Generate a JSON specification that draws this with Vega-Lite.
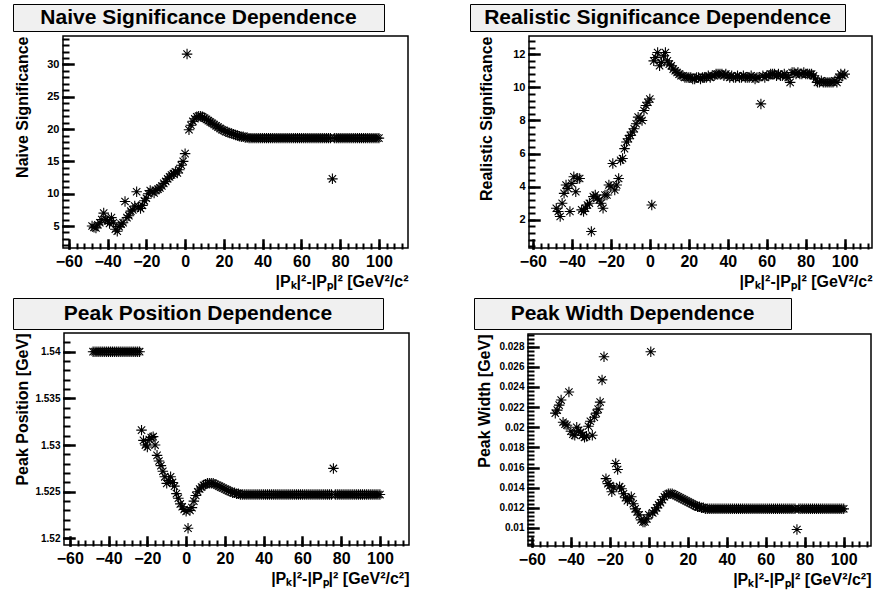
{
"$schema": "https://vega.github.io/schema/vega-lite/v6.json",
"padding": {"left": 12, "top": 3, "right": 4, "bottom": 4},
"background": "white",
"config": {
  "font": "Liberation Sans",
  "view": {"stroke": "black", "strokeWidth": 1.5},
  "axis": {"domain": false, "grid": false, "ticks": true, "tickColor": "#000000", "tickOpacity": 1, "tickCap": "square", "labelColor": "black", "titleColor": "black", "labelFont": "Liberation Sans", "titleFont": "Liberation Sans", "labelFontWeight": "bold", "titleFontWeight": "bold", "labelFlush": false, "labelOverlap": false, "zindex": 1}
},
"datasets": {"pts": [
{"x":-48,"a":5.0,"b":2.7,"c":1.54,"d":0.0214},
{"x":-47,"a":4.8,"b":2.5,"c":1.54,"d":0.0217},
{"x":-46,"a":4.7,"b":2.2,"c":1.54,"d":0.0222},
{"x":-45,"a":5.2,"b":3.0,"c":1.54,"d":0.0227},
{"x":-44,"a":5.5,"b":3.6,"c":1.54,"d":0.0205},
{"x":-43,"a":6.0,"b":4.1,"c":1.54,"d":0.0203},
{"x":-42,"a":7.0,"b":3.9,"c":1.54,"d":0.0202},
{"x":-41,"a":6.0,"b":2.5,"c":1.54,"d":0.0235},
{"x":-40,"a":5.8,"b":4.2,"c":1.54,"d":0.0196},
{"x":-39,"a":5.4,"b":4.6,"c":1.54,"d":0.0193},
{"x":-38,"a":6.3,"b":3.7,"c":1.54,"d":0.0192},
{"x":-37,"a":5.5,"b":4.5,"c":1.54,"d":0.0200},
{"x":-36,"a":4.5,"b":4.5,"c":1.54,"d":0.0197},
{"x":-35,"a":4.2,"b":2.6,"c":1.54,"d":0.0195},
{"x":-34,"a":4.9,"b":2.5,"c":1.54,"d":0.0192},
{"x":-33,"a":5.3,"b":2.7,"c":1.54,"d":0.0190},
{"x":-32,"a":5.5,"b":2.9,"c":1.54,"d":0.0191},
{"x":-31,"a":8.8,"b":3.0,"c":1.54,"d":0.0201},
{"x":-30,"a":6.3,"b":1.3,"c":1.54,"d":0.0206},
{"x":-29,"a":6.6,"b":3.4,"c":1.54,"d":0.0192},
{"x":-28,"a":7.3,"b":3.5,"c":1.54,"d":0.0210},
{"x":-27,"a":7.5,"b":3.3,"c":1.54,"d":0.0214},
{"x":-26,"a":8.1,"b":3.2,"c":1.54,"d":0.0218},
{"x":-25,"a":10.3,"b":3.0,"c":1.54,"d":0.0225},
{"x":-24,"a":8.0,"b":2.7,"c":1.54,"d":0.0247},
{"x":-23,"a":7.7,"b":3.5,"c":1.5316,"d":0.0270},
{"x":-22,"a":8.2,"b":3.5,"c":1.5305,"d":0.0149},
{"x":-21,"a":8.9,"b":4.1,"c":1.5300,"d":0.0144},
{"x":-20,"a":9.3,"b":4.0,"c":1.5298,"d":0.0142},
{"x":-19,"a":10.0,"b":5.4,"c":1.5306,"d":0.0136},
{"x":-18,"a":10.5,"b":3.8,"c":1.5308,"d":0.0140},
{"x":-17,"a":10.3,"b":4.1,"c":1.5309,"d":0.0164},
{"x":-16,"a":10.1,"b":4.5,"c":1.5300,"d":0.0158},
{"x":-15,"a":10.5,"b":5.6,"c":1.5289,"d":0.0141},
{"x":-14,"a":10.7,"b":5.7,"c":1.5283,"d":0.0139},
{"x":-13,"a":10.9,"b":6.3,"c":1.5278,"d":0.0134},
{"x":-12,"a":11.2,"b":6.7,"c":1.5272,"d":0.0130},
{"x":-11,"a":11.6,"b":6.9,"c":1.5266,"d":0.0127},
{"x":-10,"a":11.9,"b":7.1,"c":1.5259,"d":0.0129},
{"x":-9,"a":12.3,"b":7.3,"c":1.5262,"d":0.0131},
{"x":-8,"a":12.6,"b":7.5,"c":1.5266,"d":0.0124},
{"x":-7,"a":12.9,"b":7.8,"c":1.5260,"d":0.0119},
{"x":-6,"a":13.1,"b":8.2,"c":1.5256,"d":0.0116},
{"x":-5,"a":13.4,"b":8.1,"c":1.5248,"d":0.0113},
{"x":-4,"a":13.2,"b":8.0,"c":1.5243,"d":0.0108},
{"x":-3,"a":13.7,"b":8.6,"c":1.5237,"d":0.0106},
{"x":-2,"a":14.4,"b":8.9,"c":1.5234,"d":0.0106},
{"x":-1,"a":15.0,"b":9.1,"c":1.5231,"d":0.0109},
{"x":0,"a":16.2,"b":9.3,"c":1.5229,"d":0.0113},
{"x":1,"a":31.6,"b":2.9,"c":1.5211,"d":0.0275},
{"x":2,"a":19.9,"b":11.6,"c":1.5230,"d":0.0115},
{"x":3,"a":20.6,"b":11.8,"c":1.5233,"d":0.0117},
{"x":4,"a":21.2,"b":12.1,"c":1.5240,"d":0.0120},
{"x":5,"a":21.6,"b":11.3,"c":1.5246,"d":0.0123},
{"x":6,"a":21.9,"b":11.5,"c":1.5250,"d":0.0125},
{"x":7,"a":22.0,"b":11.9,"c":1.5253,"d":0.0128},
{"x":8,"a":22.0,"b":12.1,"c":1.5255,"d":0.0131},
{"x":9,"a":21.9,"b":11.6,"c":1.5257,"d":0.0133},
{"x":10,"a":21.7,"b":11.4,"c":1.5258,"d":0.0134},
{"x":11,"a":21.5,"b":11.3,"c":1.5259,"d":0.0134},
{"x":12,"a":21.3,"b":11.1,"c":1.5259,"d":0.0134},
{"x":13,"a":21.1,"b":11.0,"c":1.5259,"d":0.0133},
{"x":14,"a":20.9,"b":10.9,"c":1.5259,"d":0.0132},
{"x":15,"a":20.7,"b":10.8,"c":1.5258,"d":0.0131},
{"x":16,"a":20.5,"b":10.7,"c":1.5257,"d":0.0130},
{"x":17,"a":20.3,"b":10.7,"c":1.5256,"d":0.0129},
{"x":18,"a":20.1,"b":10.6,"c":1.5255,"d":0.0128},
{"x":19,"a":19.9,"b":10.6,"c":1.5254,"d":0.0127},
{"x":20,"a":19.8,"b":10.6,"c":1.5253,"d":0.0126},
{"x":21,"a":19.6,"b":10.6,"c":1.5252,"d":0.0125},
{"x":22,"a":19.5,"b":10.5,"c":1.5251,"d":0.0124},
{"x":23,"a":19.4,"b":10.5,"c":1.5250,"d":0.0123},
{"x":24,"a":19.3,"b":10.6,"c":1.5249,"d":0.0122},
{"x":25,"a":19.2,"b":10.6,"c":1.5249,"d":0.0121},
{"x":26,"a":19.1,"b":10.5,"c":1.5248,"d":0.0121},
{"x":27,"a":19.0,"b":10.6,"c":1.5248,"d":0.0120},
{"x":28,"a":18.9,"b":10.6,"c":1.5247,"d":0.0120},
{"x":29,"a":18.8,"b":10.6,"c":1.5247,"d":0.0119},
{"x":30,"a":18.8,"b":10.7,"c":1.5247,"d":0.0119},
{"x":31,"a":18.7,"b":10.6,"c":1.5247,"d":0.0119},
{"x":32,"a":18.7,"b":10.7,"c":1.5247,"d":0.0119},
{"x":33,"a":18.6,"b":10.7,"c":1.5247,"d":0.0119},
{"x":34,"a":18.6,"b":10.8,"c":1.5247,"d":0.0119},
{"x":35,"a":18.6,"b":10.8,"c":1.5247,"d":0.0119},
{"x":36,"a":18.6,"b":10.8,"c":1.5247,"d":0.0119},
{"x":37,"a":18.6,"b":10.8,"c":1.5247,"d":0.0119},
{"x":38,"a":18.6,"b":10.7,"c":1.5247,"d":0.0119},
{"x":39,"a":18.6,"b":10.8,"c":1.5247,"d":0.0119},
{"x":40,"a":18.6,"b":10.7,"c":1.5247,"d":0.0119},
{"x":41,"a":18.6,"b":10.6,"c":1.5247,"d":0.0119},
{"x":42,"a":18.6,"b":10.7,"c":1.5247,"d":0.0119},
{"x":43,"a":18.6,"b":10.6,"c":1.5247,"d":0.0119},
{"x":44,"a":18.6,"b":10.6,"c":1.5247,"d":0.0119},
{"x":45,"a":18.6,"b":10.7,"c":1.5247,"d":0.0119},
{"x":46,"a":18.6,"b":10.6,"c":1.5247,"d":0.0119},
{"x":47,"a":18.6,"b":10.6,"c":1.5247,"d":0.0119},
{"x":48,"a":18.6,"b":10.7,"c":1.5247,"d":0.0119},
{"x":49,"a":18.6,"b":10.6,"c":1.5247,"d":0.0119},
{"x":50,"a":18.6,"b":10.6,"c":1.5247,"d":0.0119},
{"x":51,"a":18.6,"b":10.6,"c":1.5247,"d":0.0119},
{"x":52,"a":18.6,"b":10.7,"c":1.5247,"d":0.0119},
{"x":53,"a":18.6,"b":10.6,"c":1.5247,"d":0.0119},
{"x":54,"a":18.6,"b":10.5,"c":1.5247,"d":0.0119},
{"x":55,"a":18.6,"b":10.6,"c":1.5247,"d":0.0119},
{"x":56,"a":18.6,"b":10.6,"c":1.5247,"d":0.0119},
{"x":57,"a":18.6,"b":9.0,"c":1.5247,"d":0.0119},
{"x":58,"a":18.6,"b":10.7,"c":1.5247,"d":0.0119},
{"x":59,"a":18.6,"b":10.6,"c":1.5247,"d":0.0119},
{"x":60,"a":18.6,"b":10.7,"c":1.5247,"d":0.0119},
{"x":61,"a":18.6,"b":10.7,"c":1.5247,"d":0.0119},
{"x":62,"a":18.6,"b":10.8,"c":1.5247,"d":0.0119},
{"x":63,"a":18.6,"b":10.8,"c":1.5247,"d":0.0119},
{"x":64,"a":18.6,"b":10.8,"c":1.5247,"d":0.0119},
{"x":65,"a":18.6,"b":10.7,"c":1.5247,"d":0.0119},
{"x":66,"a":18.6,"b":10.8,"c":1.5247,"d":0.0119},
{"x":67,"a":18.6,"b":10.7,"c":1.5247,"d":0.0119},
{"x":68,"a":18.6,"b":10.7,"c":1.5247,"d":0.0119},
{"x":69,"a":18.6,"b":10.8,"c":1.5247,"d":0.0119},
{"x":70,"a":18.6,"b":10.7,"c":1.5247,"d":0.0119},
{"x":71,"a":18.6,"b":10.6,"c":1.5247,"d":0.0119},
{"x":72,"a":18.6,"b":10.3,"c":1.5247,"d":0.0119},
{"x":73,"a":18.6,"b":10.9,"c":1.5247,"d":0.0119},
{"x":74,"a":18.6,"b":10.9,"c":1.5247,"d":0.0119},
{"x":75,"a":18.6,"b":10.8,"c":1.5247,"d":0.0119},
{"x":76,"a":12.3,"b":10.9,"c":1.5275,"d":0.00985},
{"x":77,"a":18.6,"b":10.8,"c":1.5247,"d":0.0119},
{"x":78,"a":18.6,"b":10.8,"c":1.5247,"d":0.0119},
{"x":79,"a":18.6,"b":10.9,"c":1.5247,"d":0.0119},
{"x":80,"a":18.6,"b":10.8,"c":1.5247,"d":0.0119},
{"x":81,"a":18.6,"b":10.8,"c":1.5247,"d":0.0119},
{"x":82,"a":18.6,"b":10.8,"c":1.5247,"d":0.0119},
{"x":83,"a":18.6,"b":10.8,"c":1.5247,"d":0.0119},
{"x":84,"a":18.6,"b":10.7,"c":1.5247,"d":0.0119},
{"x":85,"a":18.6,"b":10.5,"c":1.5247,"d":0.0119},
{"x":86,"a":18.6,"b":10.3,"c":1.5247,"d":0.0119},
{"x":87,"a":18.6,"b":10.3,"c":1.5247,"d":0.0119},
{"x":88,"a":18.6,"b":10.4,"c":1.5247,"d":0.0119},
{"x":89,"a":18.6,"b":10.3,"c":1.5247,"d":0.0119},
{"x":90,"a":18.6,"b":10.3,"c":1.5247,"d":0.0119},
{"x":91,"a":18.6,"b":10.3,"c":1.5247,"d":0.0119},
{"x":92,"a":18.6,"b":10.3,"c":1.5247,"d":0.0119},
{"x":93,"a":18.6,"b":10.3,"c":1.5247,"d":0.0119},
{"x":94,"a":18.6,"b":10.3,"c":1.5247,"d":0.0119},
{"x":95,"a":18.6,"b":10.4,"c":1.5247,"d":0.0119},
{"x":96,"a":18.6,"b":10.3,"c":1.5247,"d":0.0119},
{"x":97,"a":18.6,"b":10.6,"c":1.5247,"d":0.0119},
{"x":98,"a":18.6,"b":10.8,"c":1.5247,"d":0.0119},
{"x":99,"a":18.6,"b":10.7,"c":1.5247,"d":0.0119},
{"x":100,"a":18.6,"b":10.8,"c":1.5247,"d":0.0119}
]},
"vconcat": [
 {"hconcat": [
  {"vconcat": [
    {"width": 371, "height": 27, "view": {"fill": "#f0f0f0", "stroke": "black", "strokeWidth": 1},
     "data": {"values": [{"t": "Naive Significance Dependence"}]},
     "mark": {"type": "text", "fontSize": 21, "fontWeight": "bold", "color": "black"},
     "encoding": {"text": {"field": "t", "type": "nominal"}}},
    {"hconcat": [
     {"width": 1, "height": 212, "view": {"stroke": null, "fill": null}, "data": {"values": [{"t": ""}]}, "mark": {"type": "text"}, "encoding": {"text": {"field": "t", "type": "nominal"}}},
     {"width": 345, "height": 212, "data": {"name": "pts"},
     "layer": [
      {"mark": {"type": "point", "shape": "M-1,0L1,0M0,-1L0,1M-0.7,-0.7L0.7,0.7M-0.7,0.7L0.7,-0.7", "size": 110, "filled": false, "stroke": "black", "strokeWidth": 1.1, "opacity": 1},
       "encoding": {
        "x": {"field": "x", "type": "quantitative", "scale": {"domain": [-63, 115], "nice": false, "zero": false},
              "axis": {"orient": "bottom", "format": "d", "values": [-60,-40,-20,0,20,40,60,80,100], "offset": -8, "tickSize": 8, "tickWidth": 2.5, "labelPadding": 5, "labelFontSize": 16, "title": "|Pₖ|²-|Pₚ|² [GeV²/c²", "titleFontSize": 16, "titleAnchor": "end", "titlePadding": 4}},
        "y": {"field": "a", "type": "quantitative", "scale": {"domain": [1.6, 34.4], "nice": false, "zero": false},
              "axis": {"orient": "left", "format": "d", "values": [5,10,15,20,25,30], "offset": -10, "tickSize": 10, "tickWidth": 2.5, "labelPadding": 4, "labelFontSize": 11, "title": "Naive Significance", "titleFontSize": 16, "titleAnchor": "end", "titlePadding": 16}}
       }},
      {"mark": {"type": "point", "opacity": 0},
       "encoding": {
        "x": {"field": "x", "type": "quantitative", "axis": {"orient": "bottom", "values": [-60,-56,-52,-48,-44,-40,-36,-32,-28,-24,-20,-16,-12,-8,-4,0,4,8,12,16,20,24,28,32,36,40,44,48,52,56,60,64,68,72,76,80,84,88,92,96,100,104,108,112], "offset": -4, "tickSize": 4, "tickWidth": 2, "labels": false, "title": null}},
        "y": {"field": "a", "type": "quantitative", "axis": {"orient": "left", "values": [2,3,4,5,6,7,8,9,10,11,12,13,14,15,16,17,18,19,20,21,22,23,24,25,26,27,28,29,30,31,32,33,34], "offset": -5, "tickSize": 5, "tickWidth": 2, "labels": false, "title": null}}
       }}
     ],
     "resolve": {"axis": {"x": "independent", "y": "independent"}}}
    ], "spacing": 0}
  ], "spacing": 3},
  {"vconcat": [
    {"width": 375, "height": 27, "view": {"fill": "#f0f0f0", "stroke": "black", "strokeWidth": 1},
     "data": {"values": [{"t": "Realistic Significance Dependence"}]},
     "mark": {"type": "text", "fontSize": 21, "fontWeight": "bold", "color": "black"},
     "encoding": {"text": {"field": "t", "type": "nominal"}}},
    {"hconcat": [
     {"width": 1, "height": 212, "view": {"stroke": null, "fill": null}, "data": {"values": [{"t": ""}]}, "mark": {"type": "text"}, "encoding": {"text": {"field": "t", "type": "nominal"}}},
     {"width": 343, "height": 212, "data": {"name": "pts"},
     "layer": [
      {"mark": {"type": "point", "shape": "M-1,0L1,0M0,-1L0,1M-0.7,-0.7L0.7,0.7M-0.7,0.7L0.7,-0.7", "size": 110, "filled": false, "stroke": "black", "strokeWidth": 1.1, "opacity": 1},
       "encoding": {
        "x": {"field": "x", "type": "quantitative", "scale": {"domain": [-62, 114], "nice": false, "zero": false},
              "axis": {"orient": "bottom", "format": "d", "values": [-60,-40,-20,0,20,40,60,80,100], "offset": -8, "tickSize": 8, "tickWidth": 2.5, "labelPadding": 5, "labelFontSize": 16, "title": "|Pₖ|²-|Pₚ|² [GeV²/c²", "titleFontSize": 16, "titleAnchor": "end", "titlePadding": 4}},
        "y": {"field": "b", "type": "quantitative", "scale": {"domain": [0.3, 13.1], "nice": false, "zero": false},
              "axis": {"orient": "left", "format": "d", "values": [2,4,6,8,10,12], "offset": -10, "tickSize": 10, "tickWidth": 2.5, "labelPadding": 4, "labelFontSize": 11, "title": "Realistic Significance", "titleFontSize": 16, "titleAnchor": "end", "titlePadding": 18}}
       }},
      {"mark": {"type": "point", "opacity": 0},
       "encoding": {
        "x": {"field": "x", "type": "quantitative", "axis": {"orient": "bottom", "values": [-60,-56,-52,-48,-44,-40,-36,-32,-28,-24,-20,-16,-12,-8,-4,0,4,8,12,16,20,24,28,32,36,40,44,48,52,56,60,64,68,72,76,80,84,88,92,96,100,104,108,112], "offset": -4, "tickSize": 4, "tickWidth": 2, "labels": false, "title": null}},
        "y": {"field": "b", "type": "quantitative", "axis": {"orient": "left", "values": [0.4,0.8,1.2,1.6,2,2.4,2.8,3.2,3.6,4,4.4,4.8,5.2,5.6,6,6.4,6.8,7.2,7.6,8,8.4,8.8,9.2,9.6,10,10.4,10.8,11.2,11.6,12,12.4,12.8], "offset": -5, "tickSize": 5, "tickWidth": 2, "labels": false, "title": null}}
       }}
     ],
     "resolve": {"axis": {"x": "independent", "y": "independent"}}}
    ], "spacing": 7}
  ], "spacing": 3}
 ], "spacing": 60},
 {"hconcat": [
  {"vconcat": [
    {"width": 370, "height": 31, "view": {"fill": "#f0f0f0", "stroke": "black", "strokeWidth": 1},
     "data": {"values": [{"t": "Peak Position Dependence"}]},
     "mark": {"type": "text", "fontSize": 21, "fontWeight": "bold", "color": "black"},
     "encoding": {"text": {"field": "t", "type": "nominal"}}},
    {"hconcat": [
     {"width": 1, "height": 212, "view": {"stroke": null, "fill": null}, "data": {"values": [{"t": ""}]}, "mark": {"type": "text"}, "encoding": {"text": {"field": "t", "type": "nominal"}}},
     {"width": 345, "height": 212, "data": {"name": "pts"},
     "layer": [
      {"mark": {"type": "point", "shape": "M-1,0L1,0M0,-1L0,1M-0.7,-0.7L0.7,0.7M-0.7,0.7L0.7,-0.7", "size": 110, "filled": false, "stroke": "black", "strokeWidth": 1.1, "opacity": 1},
       "encoding": {
        "x": {"field": "x", "type": "quantitative", "scale": {"domain": [-63, 115], "nice": false, "zero": false},
              "axis": {"orient": "bottom", "format": "d", "values": [-60,-40,-20,0,20,40,60,80,100], "offset": -8, "tickSize": 8, "tickWidth": 2.5, "labelPadding": 5, "labelFontSize": 16, "title": "|Pₖ|²-|Pₚ|² [GeV²/c²]", "titleFontSize": 16, "titleAnchor": "end", "titlePadding": 4}},
        "y": {"field": "c", "type": "quantitative", "scale": {"domain": [1.5193, 1.5420], "nice": false, "zero": false},
              "axis": {"orient": "left", "format": ".4~f", "values": [1.52,1.525,1.53,1.535,1.54], "offset": -10, "tickSize": 10, "tickWidth": 2.5, "labelPadding": 4, "labelFontSize": 10, "title": "Peak Position [GeV]", "titleFontSize": 16, "titleAnchor": "end", "titlePadding": 4}}
       }},
      {"mark": {"type": "point", "opacity": 0},
       "encoding": {
        "x": {"field": "x", "type": "quantitative", "axis": {"orient": "bottom", "values": [-60,-56,-52,-48,-44,-40,-36,-32,-28,-24,-20,-16,-12,-8,-4,0,4,8,12,16,20,24,28,32,36,40,44,48,52,56,60,64,68,72,76,80,84,88,92,96,100,104,108,112], "offset": -4, "tickSize": 4, "tickWidth": 2, "labels": false, "title": null}},
        "y": {"field": "c", "type": "quantitative", "axis": {"orient": "left", "values": [1.52,1.521,1.522,1.523,1.524,1.525,1.526,1.527,1.528,1.529,1.53,1.531,1.532,1.533,1.534,1.535,1.536,1.537,1.538,1.539,1.54,1.541], "offset": -5, "tickSize": 5, "tickWidth": 2, "labels": false, "title": null}}
       }}
     ],
     "resolve": {"axis": {"x": "independent", "y": "independent"}}}
    ], "spacing": 0}
  ], "spacing": 2},
  {"vconcat": [
    {"width": 317, "height": 31, "view": {"fill": "#f0f0f0", "stroke": "black", "strokeWidth": 1},
     "data": {"values": [{"t": "Peak Width Dependence"}]},
     "mark": {"type": "text", "fontSize": 21, "fontWeight": "bold", "color": "black"},
     "encoding": {"text": {"field": "t", "type": "nominal"}}},
    {"hconcat": [
     {"width": 1, "height": 212, "view": {"stroke": null, "fill": null}, "data": {"values": [{"t": ""}]}, "mark": {"type": "text"}, "encoding": {"text": {"field": "t", "type": "nominal"}}},
     {"width": 343, "height": 212, "data": {"name": "pts"},
     "layer": [
      {"mark": {"type": "point", "shape": "M-1,0L1,0M0,-1L0,1M-0.7,-0.7L0.7,0.7M-0.7,0.7L0.7,-0.7", "size": 110, "filled": false, "stroke": "black", "strokeWidth": 1.1, "opacity": 1},
       "encoding": {
        "x": {"field": "x", "type": "quantitative", "scale": {"domain": [-62, 114], "nice": false, "zero": false},
              "axis": {"orient": "bottom", "format": "d", "values": [-60,-40,-20,0,20,40,60,80,100], "offset": -8, "tickSize": 8, "tickWidth": 2.5, "labelPadding": 5, "labelFontSize": 16, "title": "|Pₖ|²-|Pₚ|² [GeV²/c²]", "titleFontSize": 16, "titleAnchor": "end", "titlePadding": 4}},
        "y": {"field": "d", "type": "quantitative", "scale": {"domain": [0.00821, 0.02926], "nice": false, "zero": false},
              "axis": {"orient": "left", "format": ".3~f", "values": [0.01,0.012,0.014,0.016,0.018,0.02,0.022,0.024,0.026,0.028], "offset": -10, "tickSize": 10, "tickWidth": 2.5, "labelPadding": 4, "labelFontSize": 10, "title": "Peak Width [GeV]", "titleFontSize": 16, "titleAnchor": "end", "titlePadding": 6}}
       }},
      {"mark": {"type": "point", "opacity": 0},
       "encoding": {
        "x": {"field": "x", "type": "quantitative", "axis": {"orient": "bottom", "values": [-60,-56,-52,-48,-44,-40,-36,-32,-28,-24,-20,-16,-12,-8,-4,0,4,8,12,16,20,24,28,32,36,40,44,48,52,56,60,64,68,72,76,80,84,88,92,96,100,104,108,112], "offset": -4, "tickSize": 4, "tickWidth": 2, "labels": false, "title": null}},
        "y": {"field": "d", "type": "quantitative", "axis": {"orient": "left", "values": [0.0084,0.0088,0.0092,0.0096,0.01,0.0104,0.0108,0.0112,0.0116,0.012,0.0124,0.0128,0.0132,0.0136,0.014,0.0144,0.0148,0.0152,0.0156,0.016,0.0164,0.0168,0.0172,0.0176,0.018,0.0184,0.0188,0.0192,0.0196,0.02,0.0204,0.0208,0.0212,0.0216,0.022,0.0224,0.0228,0.0232,0.0236,0.024,0.0244,0.0248,0.0252,0.0256,0.026,0.0264,0.0268,0.0272,0.0276,0.028,0.0284,0.0288,0.0292], "offset": -5, "tickSize": 5, "tickWidth": 2, "labels": false, "title": null}}
       }}
     ],
     "resolve": {"axis": {"x": "independent", "y": "independent"}}}
    ], "spacing": 1}
  ], "spacing": 2}
 ], "spacing": 63}
], "spacing": 7}
